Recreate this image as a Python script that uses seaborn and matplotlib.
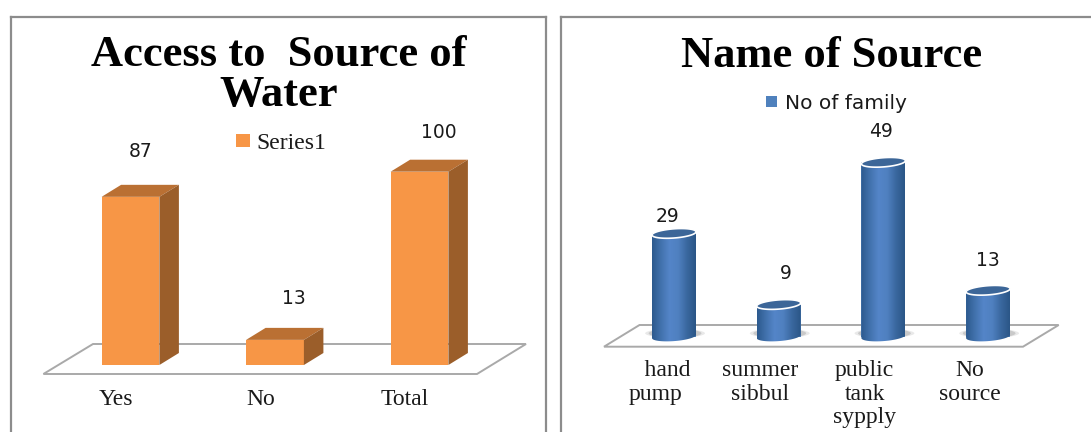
import numpy as np
import pandas as pd
import matplotlib
matplotlib.use("Agg")
import matplotlib.pyplot as plt
import seaborn as sns
from matplotlib.patches import Polygon, Ellipse
from matplotlib.path import Path
from matplotlib.colors import LinearSegmentedColormap
from matplotlib.transforms import ScaledTranslation

# Values
access_categories = ["Yes", "No", "Total"]
access_values = [87, 13, 100]
source_categories = ["    hand\npump", "summer\nsibbul", "public\ntank\nsypply", "No\nsource"]
source_values = [29, 9, 49, 13]

W, H, DPI = 1091, 432, 100
SERIF = "Liberation Serif"
SANS = "DejaVu Sans"
FRAME = "#8c8c8c"
FLOOR = "#a9a9a9"
TICK_PT = 17
VALUE_PT = 13.5
TITLE_PT = 32

sns.set_theme(style="white")
plt.rcParams["font.family"] = [SERIF, SANS]
fig = plt.figure(figsize=(W / DPI, H / DPI), dpi=DPI, facecolor="white")


def panel(x0, x1, y0, y1, centre0, step, base, per_unit):
    """Axes spanning a framed panel, scaled so category 0 and value 0 land at the given pixels."""
    ax = fig.add_axes([x0 / W, 1 - y1 / H, (x1 - x0) / W, (y1 - y0) / H])
    limits = ((x0 - centre0) / step, (x1 - centre0) / step,
              (base - y1) / per_unit, (base - y0) / per_unit)
    return ax, limits


def finish(ax, limits, frame_sides):
    ax.set_xlim(limits[0], limits[1])
    ax.set_ylim(limits[2], limits[3])
    ax.set_xlabel("")
    ax.set_ylabel("")
    ax.set_yticks([])
    for name, spine in ax.spines.items():
        spine.set_visible(name in frame_sides)
        spine.set_color(FRAME)
        spine.set_linewidth(1.6)


def floor(ax, step, per_unit, centre0, base, corners):
    pts = [((x - centre0) / step, (base - y) / per_unit) for x, y in corners]
    ax.add_patch(Polygon(pts, closed=True, facecolor="white", edgecolor=FLOOR,
                         linewidth=1.4, zorder=0.5))


def tick_labels(ax, labels, shift_px, pad_pt, spacing):
    ax.set_xticks(range(len(labels)))
    ax.set_xticklabels(labels, fontfamily=SERIF, fontsize=TICK_PT, color="#1a1a1a",
                       linespacing=spacing)
    ax.tick_params(axis="x", length=0, pad=pad_pt, bottom=True)
    shift = ScaledTranslation(shift_px / DPI, 0, fig.dpi_scale_trans)
    for label in ax.get_xticklabels():
        label.set_transform(label.get_transform() + shift)


def value_labels(ax, categories, values, nudges):
    for c, v, (dx, dy) in zip(range(len(categories)), values, nudges):
        ax.annotate(str(v), (c, v), xytext=(dx, dy), textcoords="offset pixels",
                    ha="center", va="center", fontfamily=SANS, fontsize=VALUE_PT,
                    color="#1a1a1a", zorder=6)


def legend(ax, x_px, y_px, family, size, handlelength, handleheight, textpad):
    handles, labels = ax.get_legend_handles_labels()
    ax.legend(handles, labels, loc="center left", bbox_to_anchor=(x_px / W, 1 - y_px / H),
              bbox_transform=fig.transFigure, frameon=False, borderpad=0, borderaxespad=0,
              handlelength=handlelength, handleheight=handleheight, handletextpad=textpad,
              prop={"family": family, "size": size}, labelcolor="#1a1a1a")


# Left panel: cuboid columns
STEP_L, BASE_L, UNIT_L, C0_L = 144.5, 365.0, 1.933, 130.5
ax_l, lim_l = panel(10.5, 545.5, 16.5, 436, C0_L, STEP_L, BASE_L, UNIT_L)
sns.barplot(data=pd.DataFrame({"category": access_categories, "value": access_values}),
            x="category", y="value", order=access_categories, color="#f79646",
            saturation=1, width=0.4, label="Series1", linewidth=0, ax=ax_l, zorder=2)
depth_x = 19.5 / STEP_L
depth_y = 12.0 / UNIT_L
for bar in ax_l.containers[0]:
    left, right = bar.get_x(), bar.get_x() + bar.get_width()
    top = bar.get_height()
    ax_l.add_patch(Polygon([(left, top), (right, top), (right + depth_x, top + depth_y),
                            (left + depth_x, top + depth_y)],
                           facecolor="#ba7033", edgecolor="none", zorder=2))
    ax_l.add_patch(Polygon([(right, 0), (right + depth_x, depth_y),
                            (right + depth_x, top + depth_y), (right, top)],
                           facecolor="#9b5e2a", edgecolor="none", zorder=2))
floor(ax_l, STEP_L, UNIT_L, C0_L, BASE_L, [(43.4, 374), (477, 374), (526, 344), (93, 344)])
finish(ax_l, lim_l, ("left", "top", "right"))
tick_labels(ax_l, access_categories, -14.5, -34, 1.1)
value_labels(ax_l, access_categories, access_values, [(10.5, 45.7), (19, 41), (19, 39.7)])
legend(ax_l, 236, 143.5, SERIF, TICK_PT, 0.6, 0.43, 0.26)
ax_l.text((279 - 10.5) / 535, 1 - (74.5 - 16.5) / 419.5, "Access to  Source of\nWater",
          transform=ax_l.transAxes, ha="center", va="center", fontfamily=SERIF,
          fontweight="bold", fontsize=TITLE_PT, linespacing=1.0, color="black")

# Right panel: cylindrical columns
STEP_R, BASE_R, UNIT_R, C0_R = 104.7, 336.5, 3.555, 674.0
ax_r, lim_r = panel(560.5, 1096, 16.5, 436, C0_R, STEP_R, BASE_R, UNIT_R)
sns.barplot(data=pd.DataFrame({"category": source_categories, "value": source_values}),
            x="category", y="value", order=source_categories, color="#4f81bd",
            saturation=1, width=0.42, label="No of family", linewidth=0, ax=ax_r, zorder=2)
cylinder_cmap = LinearSegmentedColormap.from_list(
    "cylinder", ["#2d5a8e", "#4272ad", "#5485c8", "#4f80c0", "#3a689f", "#2b5687"])
shade = np.linspace(0, 1, 64).reshape(1, -1)
ry = 4.6 / UNIT_R
tilt = 1.6 / UNIT_R   # the ellipses rise slightly towards the right
theta = np.linspace(0, 2 * np.pi, 80)
for bar in ax_r.containers[0]:
    left, width = bar.get_x(), bar.get_width()
    right, centre, top = left + width, left + width / 2, bar.get_height()
    # soft contact shadow on the floor
    for grow, alpha in [(1.36, 0.16), (1.2, 0.28)]:
        ax_r.add_patch(Ellipse((centre + 0.01, 0.9), width * grow, 2.0 * ry, facecolor="#777777",
                               edgecolor="none", alpha=alpha, zorder=1))
    half = np.linspace(0, np.pi, 40)
    arc_x = centre - (width / 2) * np.cos(half)
    arc_y = -ry * np.sin(half) - tilt * np.cos(half)
    outline = np.column_stack([np.r_[left, arc_x, right], np.r_[top, arc_y, top]])
    body = ax_r.imshow(shade, cmap=cylinder_cmap, extent=(left, right, -4 * ry, top),
                       aspect="auto", origin="lower", zorder=2.5, interpolation="bilinear")
    body.set_clip_path(Path(outline), ax_r.transData)
    cap_x = centre + (width / 2) * np.cos(theta)
    cap_y = top + ry * np.sin(theta) + tilt * np.cos(theta)
    ax_r.add_patch(Polygon(np.column_stack([cap_x, cap_y]), facecolor="#3c6698",
                           edgecolor="white", linewidth=1.2, zorder=3))
floor(ax_r, STEP_R, UNIT_R, C0_R, BASE_R, [(604, 346.7), (1023, 346.7), (1058.7, 325), (639.5, 325)])
finish(ax_r, lim_r, ("left", "top"))
tick_labels(ax_r, source_categories, -18.7, -54.5, 1.15)
value_labels(ax_r, source_categories, source_values, [(-6.7, 16.7), (7, 31), (-2, 31.3), (0, 30)])
legend(ax_r, 766.4, 103.5, SANS, 14.5, 0.52, 0.45, 0.42)
ax_r.text((831.8 - 560.5) / 535.5, 1 - (55.5 - 16.5) / 419.5, "Name of Source",
          transform=ax_r.transAxes, ha="center", va="center", fontfamily=SERIF,
          fontweight="bold", fontsize=TITLE_PT, color="black")

fig.savefig("out.png", dpi=DPI, facecolor="white")
